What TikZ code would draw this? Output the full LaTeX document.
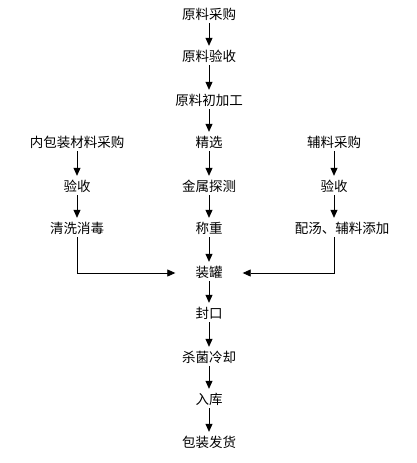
\documentclass[tikz,border=0pt]{standalone}
\usepackage{fontspec}
\setmainfont{Noto Sans CJK SC}
\usetikzlibrary{arrows.meta}
\begin{document}
\begin{tikzpicture}[x=1pt,y=-1pt,
  box/.style={inner sep=2pt,font=\fontsize{13.5pt}{14pt}\selectfont,text height=10.5pt,text depth=1.5pt},
  arr/.style={draw=black,line width=0.8pt,-{Triangle[width=7pt,length=8pt]},shorten >=3pt}]
\useasboundingbox[fill=white] (0,0) rectangle (417,463);
\node[box] (a1) at (209,15) {原料采购};
\node[box] (a2) at (209,57) {原料验收};
\node[box] (a3) at (209,101) {原料初加工};
\node[box] (a4) at (209,143) {精选};
\node[box] (a5) at (209,187) {金属探测};
\node[box] (a6) at (209,229) {称重};
\node[box] (a7) at (209,273) {装罐};
\node[box] (a8) at (209,314) {封口};
\node[box] (a9) at (209,358) {杀菌冷却};
\node[box] (a10) at (209,400) {入库};
\node[box] (a11) at (209,443) {包装发货};
\node[box] (l1) at (77,143) {内包装材料采购};
\node[box] (l2) at (77,187) {验收};
\node[box] (l3) at (77,229) {清洗消毒};
\node[box] (r1) at (334,143) {辅料采购};
\node[box] (r2) at (334,187) {验收};
\node[box] (r3) at (342,229) {配汤、辅料添加};
\draw[arr] (a1) -- (a2);
\draw[arr] (a2) -- (a3);
\draw[arr] (a3) -- (a4);
\draw[arr] (a4) -- (a5);
\draw[arr] (a5) -- (a6);
\draw[arr] (a6) -- (a7);
\draw[arr] (a7) -- (a8);
\draw[arr] (a8) -- (a9);
\draw[arr] (a9) -- (a10);
\draw[arr] (a10) -- (a11);
\draw[arr] (l1) -- (l2);
\draw[arr] (l2) -- (l3);
\draw[arr] (r1) -- (r2);
\draw[arr] (r2) -- (r2 |- r3.north);
\draw[arr,shorten >=18pt] (l3) |- (a7.west);
\draw[arr,shorten >=18pt] (r2 |- r3.south) |- (a7.east);
\end{tikzpicture}
\end{document}
